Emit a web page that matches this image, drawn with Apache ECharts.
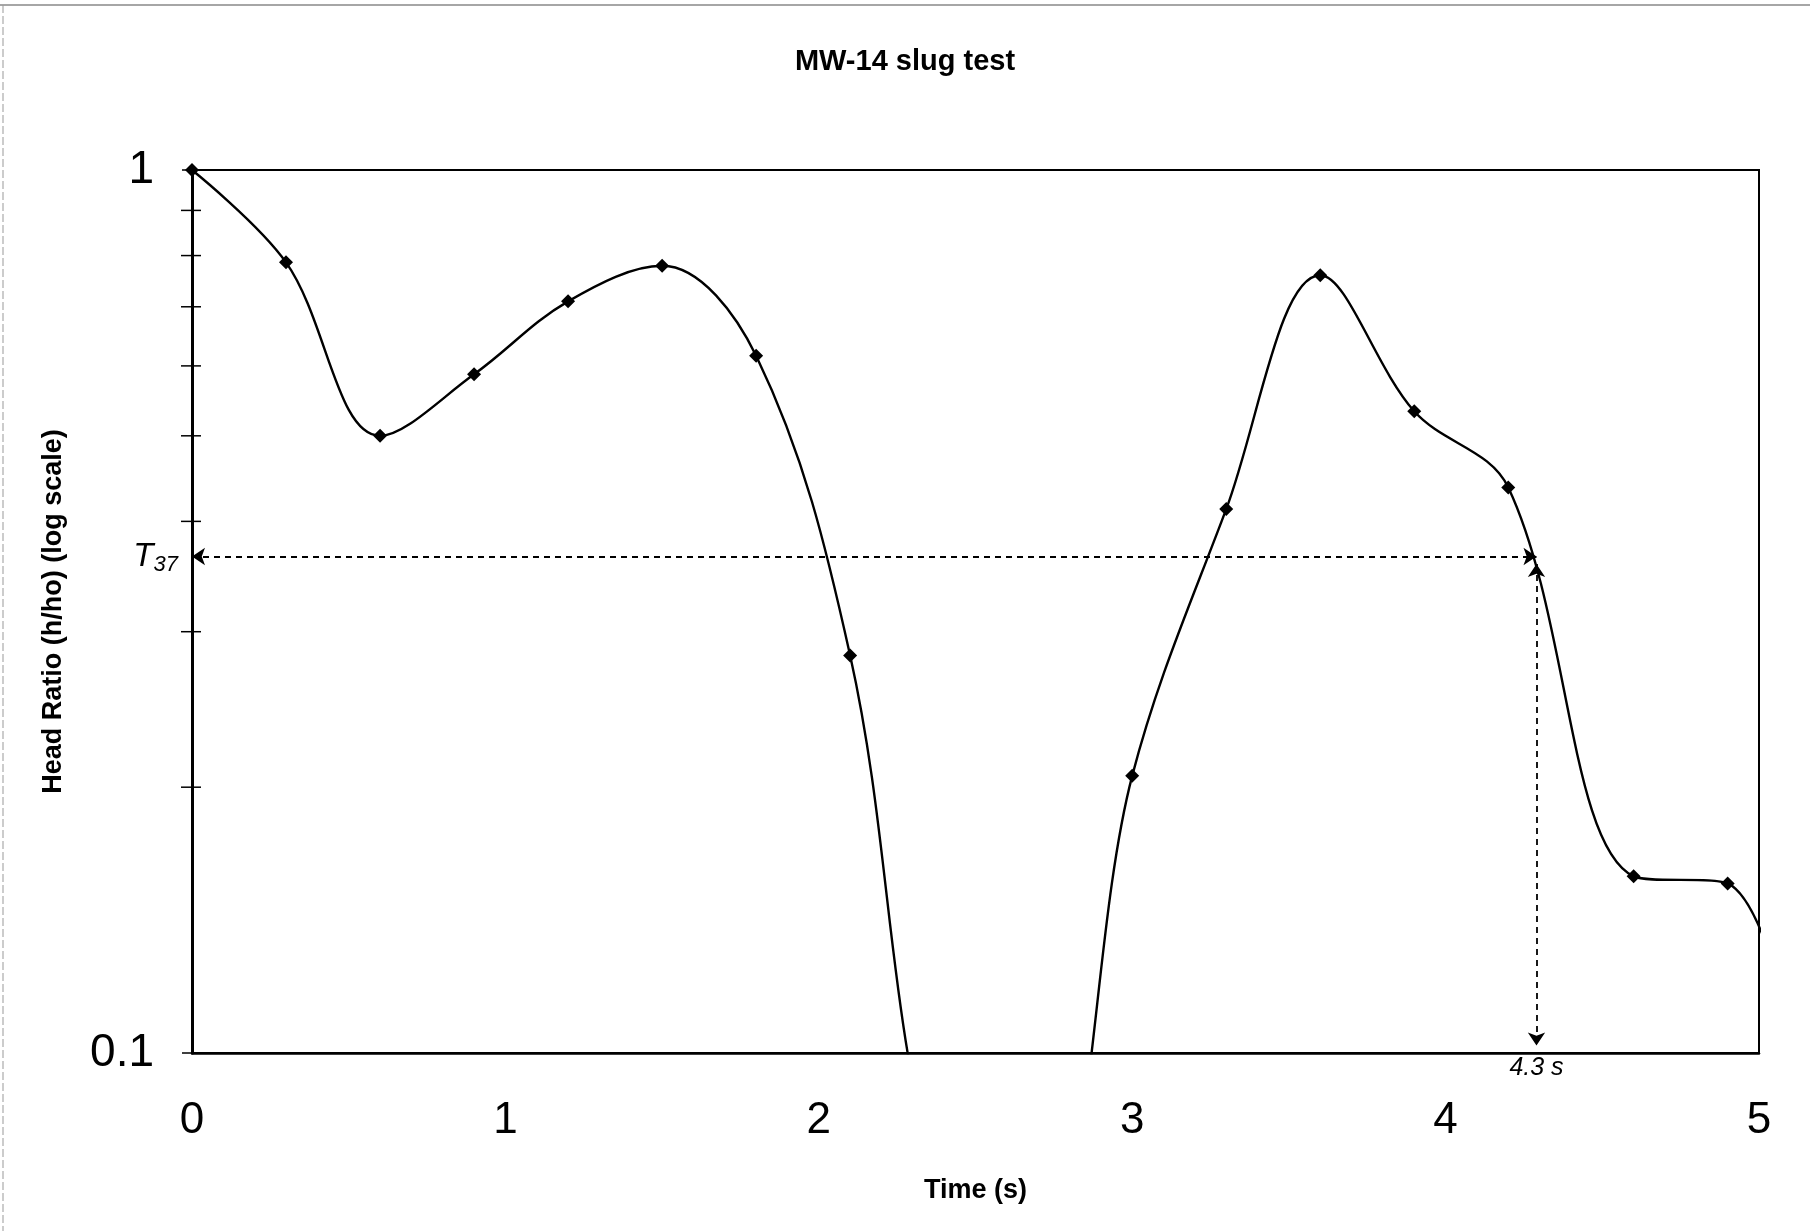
<!DOCTYPE html>
<html lang="en">

<head>
  <meta charset="UTF-8">
  <title>MW-14 slug test</title>
  <script src="https://cdn.jsdelivr.net/npm/echarts@6/dist/echarts.min.js"></script>
  <style>
    * {
      padding: 0;
      margin: 0;
    }

    body {
      background: #fff;
    }

    #main {
      width: 1810px;
      height: 1231px;
    }
  </style>
</head>

<body>
  <div id="main"></div>
  <script>
    // readings (time in s, head ratio h/ho); 2.4 and 2.7 fall below the 0.1 floor
    var times = [0, 0.3, 0.6, 0.9, 1.2, 1.5, 1.8, 2.1, 2.4, 2.7, 3.0, 3.3, 3.6, 3.9, 4.2, 4.6, 4.9, 5.2];
    var ratios = [1, 0.786, 0.5, 0.587, 0.71, 0.779, 0.616, 0.282, 0.068, 0.063, 0.206, 0.413, 0.76, 0.533, 0.437, 0.1585, 0.1556, 0.072];
    var xTicks = [0, 1, 2, 3, 4, 5];
    var yMinorTicks = [0.2, 0.3, 0.4, 0.5, 0.6, 0.7, 0.8, 0.9];
    var t37 = 0.365;
    var t37Time = 4.29;

    var font = '"Liberation Sans", Arial, sans-serif';
    var pts = times.map(function (t, i) { return [t, ratios[i]]; });

    var chart = echarts.init(document.getElementById('main'));
    var option = {
      animation: false,
      backgroundColor: '#fff',
      graphic: [
        // faint frame of the scanned page
        { type: 'line', silent: true, shape: { x1: 0, y1: 5, x2: 1810, y2: 5 }, style: { stroke: '#888', lineWidth: 1.5 } },
        { type: 'line', silent: true, shape: { x1: 3, y1: 5, x2: 3, y2: 1231 }, style: { stroke: '#999', lineWidth: 1, lineDash: [8, 3] } }
      ],
      title: {
        text: 'MW-14 slug test',
        left: 'center',
        top: 42,
        textStyle: { fontFamily: font, fontSize: 29, fontWeight: 'bold', color: '#000' }
      },
      grid: {
        left: 192,
        right: 51,
        top: 170,
        bottom: 178,
        show: true,
        borderColor: '#000',
        borderWidth: 2
      },
      xAxis: {
        type: 'value',
        min: 0,
        max: 5,
        interval: 1,
        name: 'Time (s)',
        nameLocation: 'middle',
        nameGap: 124,
        nameTextStyle: { fontFamily: font, fontSize: 27, fontWeight: 'bold', color: '#000' },
        axisLine: { show: true, lineStyle: { color: '#000', width: 2.5 } },
        axisTick: { show: false },
        splitLine: { show: false },
        axisLabel: {
          margin: 46,
          fontFamily: font,
          fontSize: 44,
          color: '#000',
          formatter: function (v) { return xTicks.indexOf(v) >= 0 ? String(v) : ''; }
        }
      },
      yAxis: {
        type: 'log',
        logBase: 10,
        min: 0.1,
        max: 1,
        name: 'Head Ratio (h/ho) (log scale)',
        nameLocation: 'middle',
        nameGap: 125,
        nameTextStyle: { fontFamily: font, fontSize: 27, fontWeight: 'bold', color: '#000' },
        axisLine: { show: true, lineStyle: { color: '#000', width: 3 } },
        axisTick: { show: true, length: 10, lineStyle: { color: '#000', width: 1.5 } },
        minorTick: { show: false },
        splitLine: { show: false },
        axisLabel: {
          margin: 38,
          fontFamily: font,
          fontSize: 46,
          color: '#000'
        }
      },
      series: [
        {
          type: 'line',
          data: pts,
          smooth: 0.36,
          clip: true,
          symbol: 'diamond',
          symbolSize: 14,
          itemStyle: { color: '#000' },
          lineStyle: { color: '#000', width: 2.4 },
          markLine: {
            silent: true,
            symbol: ['arrow', 'arrow'],
            symbolSize: 13,
            lineStyle: { color: '#000', type: [6, 5], width: 1.8 },
            label: { show: false },
            data: [
              [
                {
                  coord: [0, t37],
                  label: {
                    show: true,
                    position: 'start',
                    distance: 14,
                    formatter: '{t|T}{s|37}',
                    rich: {
                      t: { fontFamily: font, fontSize: 33, fontStyle: 'italic', color: '#000' },
                      s: { fontFamily: font, fontSize: 22, fontStyle: 'italic', color: '#000', padding: [16, 0, 0, 0] }
                    }
                  }
                },
                { coord: [t37Time, t37] }
              ],
              [
                { coord: [t37Time, 0.358] },
                {
                  coord: [t37Time, 0.102],
                  label: {
                    show: true,
                    position: 'end',
                    distance: 10,
                    formatter: '4.3 s',
                    fontFamily: font,
                    fontSize: 25,
                    fontStyle: 'italic',
                    color: '#000'
                  }
                }
              ]
            ]
          }
        },
        {
          // minor log ticks crossing the value axis
          type: 'custom',
          silent: true,
          clip: false,
          data: yMinorTicks.map(function (v) { return [0, v]; }),
          renderItem: function (params, api) {
            var p = api.coord([api.value(0), api.value(1)]);
            return {
              type: 'line',
              shape: { x1: p[0] - 11, y1: p[1], x2: p[0] + 9, y2: p[1] },
              style: { stroke: '#000', lineWidth: 1.5 }
            };
          }
        }
      ]
    };

    option && chart.setOption(option);
  </script>
</body>

</html>
